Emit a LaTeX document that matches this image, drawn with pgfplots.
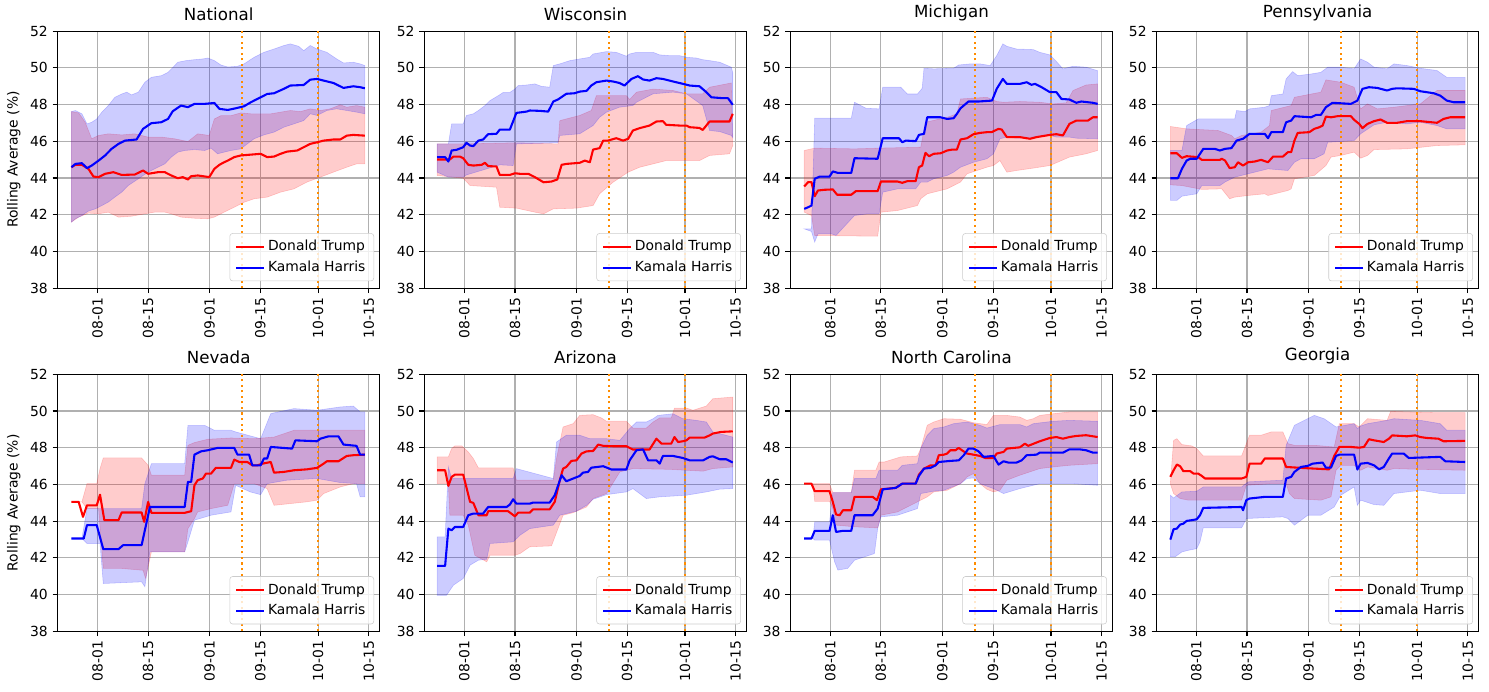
\documentclass[border=0pt]{standalone}
\usepackage{fontspec}
\setmainfont{DejaVu Sans}
\usepackage{pgfplots}
\pgfplotsset{compat=1.18}
\usepgfplotslibrary{fillbetween}

\definecolor{mplred}{HTML}{FF0000}
\definecolor{mplblue}{HTML}{0000FF}
\definecolor{darkorange}{HTML}{FF8C00}
\definecolor{gridgray}{HTML}{B0B0B0}

% days counted from 08-01
\pgfplotsset{
  panel/.style={
    scale only axis, width=232.1pt, height=185pt, anchor=south west,
    xmin=-11.05, xmax=78.05, ymin=38, ymax=52,
    xtick={0,14,31,45,61,75},
    xticklabels={\textnormal{08-01},\textnormal{08-15},\textnormal{09-01},\textnormal{09-15},\textnormal{10-01},\textnormal{10-15}},
    x tick label style={rotate=90, anchor=east},
    ytick={38,40,...,52},
    /pgf/number format/assume math mode=true,
    tick label style={font=\fontsize{10}{12}\selectfont},
    title style={font=\fontsize{12}{14}\selectfont, yshift=-2pt},
    ylabel style={font=\fontsize{10}{12}\selectfont},
    grid=major, grid style={gridgray, line width=0.8pt},
    tick align=outside, tick pos=left, major tick length=3.5pt,
    tick style={black, line width=0.8pt},
    axis line style={line width=0.8pt},
    legend entries={Donald Trump, Kamala Harris},
    legend cell align=left,
    legend image code/.code={\draw[##1] (0pt,0pt) -- (20pt,0pt);},
    legend style={at={(0.982,0.027)}, anchor=south east, draw=black!20,
      rounded corners=2pt, fill=white, fill opacity=0.8, text opacity=1,
      font=\fontsize{10}{12}\selectfont, row sep=2pt, inner xsep=4pt, inner ysep=3pt},
  },
  edge/.style={draw=none, forget plot},
  tband/.style={fill=mplred, draw=mplred, fill opacity=0.2, draw opacity=0.2, forget plot},
  hband/.style={fill=mplblue, draw=mplblue, fill opacity=0.2, draw opacity=0.2, forget plot},
  vmark/.style={darkorange, line width=1.5pt, dash pattern=on 1.5pt off 2.5pt, forget plot},
  trump/.style={mplred, line width=1.5pt, line join=round},
  harris/.style={mplblue, line width=1.5pt, line join=round},
}

\begin{document}
\begin{tikzpicture}
\path (0,0) rectangle (1072.08pt,496.8pt);

% ---------------- National
\begin{axis}[panel, at={(41.4pt,290.2pt)}, title={National}, ylabel={Rolling Average (\%)}]
\addplot[edge, name path=tu1] coordinates {(-7.2,47.62) (-5.2,47.55) (-3.4,47.04) (-1.6,46.14) (0.3,46.32) (3.0,46.41) (6.7,46.35) (10.3,46.41) (14.0,46.23) (17.7,46.23) (21.3,46.14) (25.0,45.99) (27.7,46.41) (30.9,46.32) (32.3,47.22) (34.1,47.40) (36.9,47.40) (39.6,47.55) (42.4,47.50) (47.9,47.50) (50.6,47.59) (53.3,47.68) (56.1,47.62) (58.8,47.77) (61.6,47.68) (64.3,47.77) (67.1,47.99) (68.9,47.86) (71.6,47.95) (73.9,47.86)};
\addplot[edge, name path=tl1] coordinates {(-7.2,41.60) (-5.2,41.87) (-2.5,42.09) (0.3,42.05) (3.0,42.14) (5.8,41.87) (9.4,41.92) (13.1,42.05) (15.8,42.14) (18.6,42.14) (20.4,42.05) (23.1,41.87) (26.8,41.81) (30.5,41.78) (32.3,41.87) (35.0,42.14) (37.8,42.41) (40.5,42.68) (43.3,42.87) (46.9,42.96) (50.6,43.23) (54.3,43.41) (57.9,43.78) (61.6,44.05) (65.2,44.32) (68.9,44.59) (71.6,44.77) (73.9,44.77)};
\addplot[tband] fill between[of=tu1 and tl1];
\addplot[edge, name path=hu1] coordinates {(-7.2,47.62) (-6.1,47.68) (-4.3,47.50) (-2.9,46.95) (-1.6,47.04) (-0.2,47.22) (1.2,47.59) (3.0,47.95) (4.8,48.40) (6.7,48.58) (8.1,48.68) (9.4,48.53) (11.3,48.68) (13.1,49.22) (14.9,49.49) (17.7,49.58) (19.5,49.76) (20.9,50.04) (22.2,50.31) (24.5,50.40) (26.8,50.45) (29.1,50.49) (30.5,50.54) (32.3,50.40) (34.1,50.16) (36.0,50.05) (38.7,50.09) (40.5,50.22) (43.3,50.58) (46.0,50.85) (48.8,51.03) (51.5,51.22) (53.3,51.31) (55.6,51.18) (57.0,50.94) (58.8,51.22) (60.7,51.03) (63.4,50.85) (66.1,50.49) (68.0,50.27) (70.7,50.31) (72.6,50.22) (73.9,50.13)};
\addplot[edge, name path=hl1] coordinates {(-7.2,41.60) (-6.1,41.78) (-4.3,41.96) (-2.5,42.20) (-0.6,42.32) (1.2,42.50) (3.0,42.69) (4.8,42.96) (6.7,43.23) (8.5,43.59) (11.3,43.96) (14.0,44.32) (15.8,44.50) (18.6,44.77) (20.4,45.14) (22.2,45.41) (24.1,45.50) (26.8,45.55) (29.6,45.50) (31.4,45.63) (33.2,45.32) (35.0,45.41) (36.9,45.50) (39.6,45.59) (41.4,45.86) (43.3,46.14) (46.0,46.35) (48.8,46.50) (51.5,46.77) (54.3,46.95) (57.0,47.13) (58.8,47.50) (60.7,47.41) (63.4,47.68) (66.1,47.77) (68.9,47.68) (71.6,47.59) (73.9,47.50)};
\addplot[hband] fill between[of=hu1 and hl1];
\addplot[vmark] coordinates {(40,38) (40,52)};
\addplot[vmark] coordinates {(61,38) (61,52)};
\addplot[trump] coordinates {(-7.2,44.59) (-6.1,44.72) (-4.3,44.72) (-2.5,44.50) (-1.1,44.08) (0.3,44.05) (2.1,44.23) (4.4,44.32) (6.7,44.17) (10.3,44.19) (12.6,44.41) (14.0,44.23) (16.7,44.32) (18.6,44.32) (20.4,44.14) (22.2,43.99) (23.6,44.05) (25.0,43.92) (25.9,44.10) (27.7,44.14) (30.9,44.05) (32.3,44.50) (33.7,44.72) (35.0,44.86) (36.0,44.95) (37.8,45.14) (39.6,45.23) (41.4,45.26) (45.1,45.32) (46.9,45.14) (48.8,45.17) (50.6,45.32) (52.4,45.44) (55.2,45.50) (57.0,45.68) (58.8,45.86) (60.7,45.95) (62.5,46.04) (65.2,46.10) (67.1,46.10) (68.9,46.31) (70.7,46.35) (73.9,46.31)};
\addplot[harris] coordinates {(-7.2,44.59) (-6.1,44.77) (-4.3,44.81) (-2.9,44.54) (-1.6,44.68) (0.3,44.95) (2.1,45.23) (3.9,45.59) (5.8,45.86) (7.6,46.04) (10.8,46.10) (12.6,46.68) (14.9,46.99) (17.6,47.04) (19.5,47.22) (20.8,47.64) (23.1,47.95) (25.0,47.86) (26.8,48.04) (29.5,48.04) (32.3,48.09) (33.7,47.77) (36.0,47.71) (38.2,47.80) (40.5,47.91) (42.4,48.13) (45.1,48.40) (46.9,48.58) (48.8,48.62) (51.5,48.86) (53.3,49.04) (57.0,49.07) (58.8,49.36) (60.7,49.40) (62.5,49.31) (65.2,49.18) (68.0,48.91) (70.7,49.00) (72.6,48.95) (73.9,48.89)};
\end{axis}

% ---------------- Wisconsin
\begin{axis}[panel, at={(305.5pt,290.2pt)}, title={Wisconsin}]
\addplot[edge, name path=tu2] coordinates {(-7.5,45.86) (-0.3,45.86) (14.4,45.92) (25.9,45.86) (26.4,47.13) (31.9,47.41) (35.1,47.68) (36.5,48.49) (44.8,48.49) (45.7,48.28) (47.6,48.68) (52.2,48.85) (57.7,48.77) (61.4,48.59) (65.9,48.59) (67.8,48.95) (73.8,49.18)};
\addplot[edge, name path=tl2] coordinates {(-7.5,44.14) (-0.3,43.99) (1.6,43.59) (8.9,43.50) (9.8,42.41) (14.4,42.36) (19.5,42.14) (21.9,42.05) (24.6,42.32) (31.0,42.36) (35.6,42.50) (37.4,43.14) (41.1,43.77) (45.3,44.32) (48.5,44.59) (55.8,44.95) (65.0,44.95) (67.8,45.23) (73.3,45.32) (74.2,45.77)};
\addplot[tband] fill between[of=tu2 and tl2];
\addplot[edge, name path=hu2] coordinates {(-7.5,45.86) (-4.4,45.86) (-3.5,46.95) (-0.3,46.95) (0.6,47.41) (2.5,47.50) (3.9,47.68) (5.7,47.95) (7.1,48.22) (9.4,48.49) (10.8,48.67) (12.6,48.67) (14.0,48.85) (14.9,49.04) (17.2,49.07) (19.5,49.13) (21.3,49.00) (23.6,48.95) (24.6,50.13) (26.4,50.22) (29.2,50.40) (31.9,50.49) (34.7,50.58) (35.6,50.76) (39.3,50.89) (42.0,50.85) (44.8,50.64) (45.7,50.76) (47.6,50.85) (52.2,50.85) (54.0,50.71) (56.8,50.67) (59.5,50.67) (61.4,50.58) (64.1,50.54) (65.9,50.45) (67.8,50.40) (70.6,50.31) (73.8,50.04) (74.2,49.75)};
\addplot[edge, name path=hl2] coordinates {(-7.5,44.32) (-4.4,44.05) (-0.3,44.05) (0.6,44.17) (6.2,44.50) (9.8,44.72) (13.5,44.68) (14.4,45.86) (25.9,45.92) (26.4,46.32) (31.9,46.41) (35.6,46.86) (37.4,47.31) (39.3,47.59) (42.9,47.86) (46.6,47.95) (47.6,48.13) (52.2,48.59) (57.7,48.68) (61.4,48.59) (65.9,47.95) (67.8,46.59) (70.6,46.53) (73.8,46.32) (74.2,46.20)};
\addplot[hband] fill between[of=hu2 and hl2];
\addplot[vmark] coordinates {(40,38) (40,52)};
\addplot[vmark] coordinates {(61,38) (61,52)};
\addplot[trump] coordinates {(-7.5,45.01) (-4.0,45.01) (-3.0,45.17) (-1.2,45.17) (-0.3,45.08) (1.1,44.72) (2.5,44.68) (4.8,44.72) (5.7,44.83) (6.6,44.65) (8.9,44.63) (9.8,44.17) (12.6,44.17) (14.0,44.26) (15.4,44.23) (17.7,44.23) (19.5,44.05) (21.9,43.77) (24.1,43.81) (25.7,43.92) (26.9,44.72) (28.2,44.77) (31.9,44.83) (33.3,44.95) (34.7,44.86) (35.6,45.55) (37.4,45.63) (38.4,46.04) (39.7,46.04) (42.0,46.17) (43.9,46.04) (45.3,46.14) (46.6,46.59) (48.5,46.72) (51.2,46.86) (53.1,47.08) (54.9,47.10) (55.8,46.90) (59.5,46.86) (61.4,46.86) (62.3,46.77) (65.0,46.73) (65.9,46.62) (67.8,47.08) (70.6,47.08) (73.3,47.08) (74.2,47.50)};
\addplot[harris] coordinates {(-7.5,45.14) (-5.3,45.14) (-4.4,44.90) (-3.5,45.50) (-2.1,45.54) (-0.3,45.68) (0.6,45.92) (1.6,45.77) (2.5,45.74) (3.9,46.04) (5.2,46.10) (6.6,46.39) (8.9,46.41) (9.8,46.64) (12.6,46.64) (14.4,47.55) (17.2,47.62) (18.1,47.68) (20.9,47.66) (23.2,47.62) (24.6,48.17) (25.9,48.28) (28.2,48.59) (30.5,48.62) (31.9,48.71) (33.8,48.75) (35.1,49.04) (36.5,49.22) (39.3,49.31) (41.1,49.26) (42.9,49.18) (44.3,49.04) (46.2,49.40) (48.0,49.55) (49.4,49.37) (51.2,49.31) (53.1,49.44) (54.9,49.40) (57.7,49.26) (60.5,49.13) (62.3,49.04) (65.0,49.00) (66.9,48.68) (68.3,48.40) (71.5,48.35) (72.9,48.35) (74.2,47.99)};
\end{axis}

% ---------------- Michigan
\begin{axis}[panel, at={(569.0pt,290.2pt)}, title={Michigan}]
\addplot[edge, name path=tu3] coordinates {(-7.2,45.50) (-4.3,45.63) (6.7,45.59) (13.5,45.63) (25.0,45.68) (26.3,47.04) (32.3,47.31) (35.0,47.50) (36.0,48.31) (43.3,48.40) (46.0,48.17) (47.9,48.13) (52.4,48.17) (57.9,48.13) (61.6,48.04) (65.2,48.10) (67.1,48.77) (70.7,49.07) (73.9,49.13)};
\addplot[edge, name path=tl3] coordinates {(-7.2,42.14) (-5.2,41.96) (-4.3,40.87) (13.1,40.83) (14.0,42.14) (18.6,42.23) (24.1,42.50) (25.0,42.87) (26.8,43.14) (32.3,43.41) (36.0,43.78) (37.8,44.23) (43.3,44.59) (45.1,44.68) (46.9,44.95) (48.8,44.32) (51.5,44.41) (56.1,44.54) (60.7,44.68) (66.1,45.14) (70.7,45.32) (73.9,45.50)};
\addplot[tband] fill between[of=tu3 and tl3];
\addplot[edge, name path=hu3] coordinates {(-7.2,41.23) (-5.2,41.23) (-4.3,47.26) (5.8,47.26) (6.7,48.13) (9.9,47.80) (13.5,47.77) (14.5,48.95) (19.5,48.95) (21.3,48.58) (24.1,48.58) (25.4,48.89) (25.9,49.98) (28.6,49.95) (34.1,49.98) (35.5,50.16) (38.7,50.22) (41.4,50.22) (44.2,50.13) (46.0,50.67) (47.7,51.31) (48.8,51.18) (51.5,51.03) (56.1,51.00) (57.9,50.85) (60.7,50.71) (62.5,50.35) (64.3,49.95) (67.1,50.09) (70.7,50.04) (73.9,49.85)};
\addplot[edge, name path=hl3] coordinates {(-7.2,41.23) (-5.2,41.09) (-4.3,40.51) (-3.4,40.96) (0.3,40.96) (1.6,40.87) (6.7,41.96) (10.3,42.05) (13.5,42.05) (14.5,43.23) (18.6,43.41) (23.6,43.41) (25.0,43.78) (26.8,43.78) (28.6,43.96) (32.3,44.14) (34.1,44.32) (36.0,44.59) (39.6,44.86) (43.3,45.05) (45.1,45.32) (46.9,46.14) (48.8,46.23) (51.5,46.17) (56.1,46.23) (60.7,46.32) (62.5,46.23) (66.1,46.23) (68.0,46.17) (73.9,46.14)};
\addplot[hband] fill between[of=hu3 and hl3];
\addplot[vmark] coordinates {(40,38) (40,52)};
\addplot[vmark] coordinates {(61,38) (61,52)};
\addplot[trump] coordinates {(-7.2,43.54) (-6.1,43.78) (-5.2,43.78) (-4.3,43.01) (-3.4,43.32) (-1.6,43.36) (0.7,43.38) (1.9,43.09) (5.8,43.09) (7.1,43.29) (13.1,43.29) (14.0,43.81) (18.6,43.81) (19.9,43.74) (21.3,43.83) (23.6,43.83) (24.5,44.59) (25.4,44.68) (26.3,45.37) (27.3,45.19) (28.6,45.32) (30.5,45.35) (32.3,45.50) (33.7,45.55) (35.0,45.55) (36.0,46.10) (37.8,46.17) (39.6,46.39) (41.4,46.46) (43.3,46.50) (44.6,46.50) (46.5,46.68) (47.4,46.64) (48.8,46.23) (52.4,46.23) (55.2,46.14) (57.0,46.23) (60.7,46.35) (62.5,46.39) (64.3,46.32) (66.1,46.95) (68.0,47.13) (71.2,47.13) (72.6,47.31) (73.9,47.31)};
\addplot[harris] coordinates {(-7.2,42.32) (-6.1,42.41) (-5.2,42.50) (-4.3,43.96) (-2.9,44.08) (-0.2,44.08) (0.7,44.36) (2.1,44.28) (5.8,44.28) (6.7,45.08) (13.1,45.05) (14.5,46.17) (19.0,46.17) (19.9,45.95) (20.9,46.04) (23.6,46.01) (24.5,46.35) (25.9,46.41) (26.8,47.31) (30.5,47.31) (32.3,47.22) (34.1,47.26) (35.0,47.50) (36.0,47.80) (38.2,48.17) (41.0,48.17) (44.7,48.22) (46.0,48.86) (47.7,49.40) (48.8,49.13) (52.4,49.13) (54.3,49.22) (55.6,49.08) (56.6,49.13) (58.4,48.95) (60.7,48.68) (62.5,48.68) (63.9,48.31) (66.1,48.28) (68.0,48.10) (69.4,48.17) (71.2,48.13) (72.6,48.10) (73.9,48.04)};
\end{axis}

% ---------------- Pennsylvania
\begin{axis}[panel, at={(832.6pt,290.2pt)}, title={Pennsylvania}]
\addplot[edge, name path=tu4] coordinates {(-7.2,46.81) (-2.7,46.68) (6.0,46.59) (9.7,46.32) (10.6,46.14) (12.5,46.32) (17.9,46.50) (20.2,46.86) (20.7,47.68) (26.2,47.95) (27.1,48.40) (34.4,48.68) (35.8,49.35) (39.9,49.22) (43.6,48.95) (45.4,47.77) (47.3,48.04) (50.0,47.77) (54.6,47.86) (61.9,48.04) (66.5,48.77) (74.3,48.77)};
\addplot[edge, name path=tl4] coordinates {(-7.2,43.63) (-4.0,43.59) (1.5,43.38) (7.0,43.41) (9.2,42.87) (10.6,42.96) (14.3,43.05) (18.9,43.14) (19.8,43.05) (25.3,43.32) (26.2,43.41) (27.1,43.96) (32.6,44.14) (35.8,44.68) (37.2,45.14) (39.9,45.23) (43.6,45.41) (45.4,45.08) (47.3,45.23) (49.1,45.55) (58.2,45.59) (66.5,45.77) (74.3,45.81)};
\addplot[tband] fill between[of=tu4 and tl4];
\addplot[edge, name path=hu4] coordinates {(-7.2,45.50) (-4.0,45.50) (-2.7,46.86) (0.5,47.22) (10.6,47.22) (11.1,47.68) (13.4,47.62) (14.7,47.77) (18.9,47.86) (20.2,47.95) (20.7,48.49) (23.9,48.58) (24.8,49.40) (26.6,49.80) (28.0,49.58) (31.7,49.67) (34.4,49.76) (36.3,50.04) (39.9,50.04) (43.6,49.95) (45.4,50.49) (47.3,50.31) (49.1,50.04) (52.7,49.95) (54.6,50.22) (58.2,50.13) (61.9,49.98) (66.5,49.86) (69.2,49.49) (74.3,49.49)};
\addplot[edge, name path=hl4] coordinates {(-7.2,42.78) (-5.4,42.78) (-4.0,43.01) (0.1,43.14) (1.5,43.59) (6.5,43.59) (7.9,43.78) (10.6,44.05) (19.8,44.50) (25.3,44.41) (27.1,44.86) (28.9,45.05) (32.6,45.05) (35.3,45.32) (36.3,45.95) (43.6,46.04) (45.4,46.41) (49.1,46.90) (52.7,47.04) (58.2,46.95) (61.9,47.04) (66.5,46.86) (69.2,46.68) (74.3,46.68)};
\addplot[hband] fill between[of=hu4 and hl4];
\addplot[vmark] coordinates {(40,38) (40,52)};
\addplot[vmark] coordinates {(61,38) (61,52)};
\addplot[trump] coordinates {(-7.2,45.35) (-5.4,45.35) (-4.0,45.10) (-2.7,45.19) (0.5,45.14) (1.5,44.99) (6.5,44.99) (7.0,45.05) (7.9,44.96) (9.2,44.54) (10.6,44.59) (11.5,44.86) (12.9,44.68) (14.3,44.86) (16.1,44.90) (17.9,44.99) (19.8,44.86) (20.2,44.95) (21.2,45.17) (23.9,45.17) (25.3,45.41) (26.2,45.41) (27.1,46.04) (28.0,46.46) (31.2,46.50) (32.6,46.68) (34.0,46.77) (34.9,46.86) (35.8,47.35) (37.2,47.31) (39.0,47.37) (42.7,47.37) (43.6,47.17) (45.0,46.95) (45.9,46.72) (47.3,46.95) (49.1,47.10) (50.9,47.19) (52.7,47.01) (55.5,47.01) (58.2,47.10) (61.9,47.10) (66.5,47.01) (68.3,47.22) (70.1,47.31) (74.3,47.31)};
\addplot[harris] coordinates {(-7.2,43.99) (-5.1,43.99) (-4.0,44.50) (-2.7,44.95) (-1.7,45.05) (0.1,45.05) (1.9,45.59) (5.1,45.59) (6.5,45.50) (7.9,45.59) (9.7,45.63) (11.1,46.04) (12.9,46.14) (14.7,46.41) (18.9,46.41) (19.8,46.17) (20.7,46.50) (23.9,46.50) (24.8,47.04) (26.2,47.13) (27.1,47.37) (31.7,47.31) (33.1,47.44) (34.4,47.44) (35.8,47.86) (37.6,48.10) (42.7,48.04) (44.5,48.22) (45.9,48.86) (47.7,48.95) (50.0,48.91) (52.7,48.77) (54.1,48.86) (55.5,48.89) (60.1,48.86) (61.9,48.73) (65.6,48.62) (67.4,48.49) (69.2,48.22) (71.1,48.13) (74.3,48.13)};
\end{axis}

% ---------------- Nevada
\begin{axis}[panel, at={(41.4pt,43.2pt)}, title={Nevada}, ylabel={Rolling Average (\%)}]
\addplot[edge, name path=tu5] coordinates {(-7.2,45.05) (-4.3,45.05) (-2.9,46.04) (-0.2,46.04) (0.7,46.86) (1.6,47.44) (12.2,47.44) (14.0,47.04) (14.9,46.50) (24.1,46.50) (25.0,48.13) (26.8,48.28) (30.5,48.46) (36.9,48.53) (43.3,48.49) (48.8,48.58) (52.4,48.82) (54.3,48.95) (73.9,48.95)};
\addplot[edge, name path=tl5] coordinates {(-7.2,45.05) (-4.3,45.05) (-2.9,44.68) (0.3,44.68) (1.6,41.42) (6.7,41.42) (12.6,41.32) (13.3,40.87) (14.9,42.32) (24.1,42.32) (25.0,43.59) (26.8,44.14) (27.7,44.50) (31.4,44.68) (36.0,44.86) (37.8,46.04) (43.3,46.04) (46.9,45.77) (48.8,44.86) (57.9,45.05) (60.7,45.14) (62.5,45.50) (67.1,45.86) (70.7,46.04) (73.9,46.04)};
\addplot[tband] fill between[of=tu5 and tl5];
\addplot[edge, name path=hu5] coordinates {(-7.2,43.05) (-4.3,43.05) (-2.9,44.68) (12.2,44.68) (13.1,46.04) (14.9,47.13) (24.1,47.13) (25.0,49.22) (29.6,49.22) (32.3,48.95) (36.9,48.95) (38.2,48.86) (45.1,48.49) (47.9,49.86) (54.3,50.13) (60.7,50.04) (67.1,50.22) (70.7,50.27) (72.6,49.95) (73.9,49.95)};
\addplot[edge, name path=hl5] coordinates {(-7.2,43.05) (-4.3,43.05) (-2.9,42.78) (0.7,42.78) (1.6,40.60) (12.2,40.69) (13.1,40.42) (14.5,42.32) (24.1,42.32) (25.0,42.87) (26.8,44.05) (31.4,44.32) (36.9,44.50) (38.2,45.95) (42.2,45.59) (45.1,45.44) (46.9,46.04) (52.4,46.23) (60.7,46.32) (67.1,46.10) (71.6,46.04) (72.6,45.32) (73.9,45.32)};
\addplot[hband] fill between[of=hu5 and hl5];
\addplot[vmark] coordinates {(40,38) (40,52)};
\addplot[vmark] coordinates {(61,38) (61,52)};
\addplot[trump] coordinates {(-7.2,45.05) (-5.2,45.05) (-4.0,44.23) (-2.9,44.86) (-0.2,44.86) (0.7,45.44) (1.9,44.05) (5.8,44.05) (6.7,44.47) (12.2,44.47) (12.9,43.96) (14.0,45.05) (14.9,44.45) (24.1,44.45) (25.9,44.54) (26.8,45.95) (27.7,46.23) (29.1,46.32) (30.0,46.59) (31.4,46.59) (32.7,46.90) (36.9,46.90) (37.8,47.35) (39.2,47.22) (41.4,47.22) (42.8,47.04) (44.2,47.04) (45.6,47.13) (47.9,47.22) (48.8,46.64) (51.5,46.68) (54.3,46.77) (57.9,46.82) (60.7,46.90) (62.5,47.13) (63.4,47.26) (66.6,47.26) (68.9,47.55) (70.7,47.59) (73.9,47.62)};
\addplot[harris] coordinates {(-7.2,43.05) (-3.8,43.05) (-2.9,43.78) (-0.2,43.78) (1.6,42.47) (5.8,42.47) (7.1,42.69) (12.2,42.69) (14.5,44.77) (24.1,44.77) (25.0,46.14) (25.9,46.14) (26.8,47.62) (28.6,47.80) (30.5,47.86) (33.2,47.99) (37.8,47.99) (38.7,47.62) (41.9,47.62) (42.8,47.04) (45.1,47.04) (46.0,47.41) (46.9,47.41) (47.9,48.04) (53.8,47.95) (54.7,48.40) (60.7,48.35) (61.6,48.49) (63.9,48.62) (66.6,48.62) (68.0,48.17) (71.6,48.10) (72.6,47.62) (73.9,47.62)};
\end{axis}

% ---------------- Arizona
\begin{axis}[panel, at={(305.5pt,43.2pt)}, title={Arizona}]
\addplot[edge, name path=tu6] coordinates {(-7.5,47.50) (-4.4,47.50) (-3.5,47.95) (-2.6,48.10) (-0.7,48.10) (1.1,47.77) (2.5,47.41) (3.9,46.90) (13.5,46.90) (14.4,46.23) (24.6,46.23) (25.5,47.41) (27.3,49.13) (30.1,49.31) (31.9,49.76) (35.6,49.80) (37.9,49.62) (39.3,49.44) (44.8,49.44) (46.6,49.07) (50.3,49.07) (52.2,49.40) (54.0,49.62) (57.2,49.62) (58.1,50.16) (61.4,50.16) (63.2,50.04) (66.9,50.27) (68.7,50.67) (74.2,50.76)};
\addplot[edge, name path=tl6] coordinates {(-7.5,46.04) (-4.4,46.04) (-4.0,44.32) (-0.3,44.32) (1.1,43.78) (2.9,42.14) (6.2,41.78) (7.1,42.14) (14.0,42.14) (15.4,42.23) (18.1,42.60) (24.1,42.65) (25.9,43.59) (27.3,44.32) (30.1,44.46) (33.8,44.77) (35.6,45.23) (39.3,45.50) (43.0,46.68) (46.6,46.86) (56.8,46.82) (66.0,46.72) (68.7,46.86) (74.2,46.95)};
\addplot[tband] fill between[of=tu6 and tl6];
\addplot[edge, name path=hu6] coordinates {(-7.5,43.14) (-5.3,43.14) (-4.4,46.95) (-3.5,46.32) (13.5,46.32) (14.4,46.86) (24.6,46.32) (25.5,48.31) (28.2,48.68) (31.9,48.68) (34.7,48.49) (39.3,48.49) (43.0,48.40) (45.7,49.04) (47.6,49.40) (50.3,49.40) (52.2,49.58) (53.5,49.76) (57.7,49.85) (60.4,49.58) (64.1,49.49) (66.9,49.40) (68.7,48.86) (74.2,48.58)};
\addplot[edge, name path=hl6] coordinates {(-7.5,39.96) (-4.9,39.96) (-3.0,40.51) (-0.3,40.87) (1.6,41.60) (3.9,41.87) (6.2,41.92) (7.1,42.78) (13.5,42.87) (15.4,43.23) (18.1,43.59) (24.6,43.78) (26.4,44.32) (31.0,44.54) (33.8,44.86) (35.6,45.19) (39.3,45.44) (44.8,45.59) (46.6,45.77) (50.3,45.23) (54.0,45.32) (61.4,45.41) (66.9,45.59) (70.6,45.74) (74.2,45.77)};
\addplot[hband] fill between[of=hu6 and hl6];
\addplot[vmark] coordinates {(40,38) (40,52)};
\addplot[vmark] coordinates {(61,38) (61,52)};
\addplot[trump] coordinates {(-7.5,46.77) (-5.3,46.77) (-4.4,45.92) (-3.5,46.41) (-2.6,46.53) (-0.3,46.53) (1.6,45.05) (2.5,44.99) (3.9,44.32) (6.2,44.32) (6.6,44.54) (12.1,44.54) (14.0,44.26) (14.9,44.46) (18.1,44.46) (19.0,44.64) (23.6,44.64) (25.0,45.05) (26.4,46.23) (27.3,46.86) (28.2,46.95) (29.6,47.28) (31.0,47.31) (32.4,47.68) (33.8,47.80) (35.6,47.82) (37.0,48.17) (38.4,48.10) (41.1,48.08) (44.8,48.08) (46.6,47.90) (51.2,47.90) (53.1,48.49) (54.5,48.22) (57.2,48.22) (58.1,48.58) (59.1,48.31) (60.4,48.35) (61.4,48.40) (62.3,48.55) (66.4,48.55) (67.8,48.67) (68.7,48.77) (71.0,48.86) (74.2,48.89)};
\addplot[harris] coordinates {(-7.5,41.56) (-5.3,41.56) (-4.4,43.59) (-3.5,43.50) (-2.6,43.68) (-0.3,43.68) (1.1,44.32) (2.5,44.41) (5.2,44.41) (6.6,44.77) (11.7,44.77) (12.6,44.90) (13.5,45.19) (14.4,44.95) (18.1,44.95) (19.0,45.01) (23.6,45.01) (25.0,45.41) (26.9,46.50) (28.2,46.17) (30.1,46.32) (31.9,46.46) (32.8,46.64) (34.2,46.68) (35.1,46.91) (38.4,46.99) (40.7,46.81) (44.8,46.81) (45.7,47.31) (47.6,47.86) (49.4,47.91) (50.8,47.31) (53.1,47.31) (54.0,47.13) (54.9,47.55) (57.7,47.55) (60.4,47.44) (62.3,47.31) (66.0,47.31) (67.8,47.50) (68.7,47.53) (70.6,47.37) (72.4,47.37) (74.2,47.19)};
\end{axis}

% ---------------- North Carolina
\begin{axis}[panel, at={(569.0pt,43.2pt)}, title={North Carolina}]
\addplot[edge, name path=tu7] coordinates {(-7.2,46.04) (-0.2,46.04) (0.7,45.55) (5.8,45.55) (6.7,46.77) (12.6,46.77) (13.5,47.22) (14.9,47.22) (19.5,47.50) (24.1,47.55) (25.0,47.95) (26.8,49.22) (28.6,49.40) (31.4,49.58) (36.0,49.55) (39.6,49.36) (43.3,49.26) (45.1,49.76) (48.8,49.76) (52.4,49.67) (54.3,49.49) (56.1,49.58) (57.9,49.76) (61.6,49.85) (66.1,49.95) (73.9,49.95)};
\addplot[edge, name path=tl7] coordinates {(-7.2,46.04) (-4.8,46.04) (-4.3,45.08) (-0.2,45.08) (0.7,44.68) (1.6,43.78) (6.7,43.69) (13.1,43.63) (14.0,44.32) (18.6,44.50) (24.1,45.05) (26.8,45.32) (28.6,45.59) (32.3,45.68) (36.0,46.04) (37.8,46.41) (39.6,46.59) (41.4,46.04) (43.3,45.73) (45.1,45.59) (46.9,45.68) (48.8,46.23) (52.4,46.50) (57.9,46.86) (61.6,46.95) (66.1,47.04) (73.9,47.13)};
\addplot[tband] fill between[of=tu7 and tl7];
\addplot[edge, name path=hu7] coordinates {(-7.2,43.05) (-4.8,43.05) (-4.3,43.96) (-0.2,43.96) (0.7,45.55) (5.8,45.55) (6.7,46.32) (12.6,46.32) (13.5,46.77) (18.6,46.77) (19.9,47.04) (24.1,47.13) (25.0,47.95) (26.8,48.68) (28.6,49.04) (31.4,49.13) (34.1,49.31) (37.8,49.40) (41.4,49.22) (43.3,49.07) (46.9,49.26) (52.4,49.26) (54.3,49.13) (56.1,49.31) (61.6,49.44) (66.1,49.49) (73.9,49.44)};
\addplot[edge, name path=hl7] coordinates {(-7.2,43.05) (-4.8,43.05) (-4.3,42.96) (-0.2,42.96) (1.2,41.78) (2.1,41.33) (4.8,41.42) (6.7,41.87) (12.2,42.23) (13.1,43.59) (14.0,44.23) (18.6,44.32) (24.1,44.68) (25.0,45.50) (28.6,45.63) (31.4,45.68) (36.0,46.04) (37.8,46.32) (39.6,46.35) (41.4,46.04) (45.1,45.77) (47.9,45.50) (52.4,45.77) (57.9,46.04) (67.1,46.04) (73.9,45.95)};
\addplot[hband] fill between[of=hu7 and hl7];
\addplot[vmark] coordinates {(40,38) (40,52)};
\addplot[vmark] coordinates {(61,38) (61,52)};
\addplot[trump] coordinates {(-7.2,46.04) (-5.2,46.04) (-4.3,45.63) (-0.2,45.63) (0.7,45.05) (1.6,44.36) (2.6,44.32) (3.5,44.59) (5.8,44.59) (6.7,45.32) (11.7,45.32) (12.9,45.14) (14.0,45.73) (18.1,45.81) (19.9,46.04) (23.6,46.04) (24.5,46.53) (25.9,46.86) (27.7,47.04) (29.1,47.04) (30.0,47.59) (31.4,47.62) (32.3,47.68) (33.2,47.86) (34.6,47.86) (35.5,47.99) (36.4,47.86) (37.8,47.68) (39.6,47.62) (41.4,47.55) (42.8,47.44) (45.1,47.44) (46.0,47.68) (47.9,47.77) (48.8,47.95) (52.4,48.02) (53.8,48.22) (54.7,48.10) (57.9,48.35) (60.7,48.53) (62.5,48.58) (64.3,48.49) (66.1,48.58) (68.0,48.64) (70.7,48.68) (73.9,48.58)};
\addplot[harris] coordinates {(-7.2,43.05) (-5.2,43.05) (-4.3,43.47) (-0.2,43.47) (0.7,44.32) (1.6,43.41) (3.5,43.47) (5.8,43.47) (6.7,44.32) (11.7,44.32) (13.1,44.68) (14.5,45.73) (18.1,45.81) (19.9,46.04) (23.6,46.04) (24.5,46.46) (25.9,46.86) (27.7,46.90) (29.1,47.04) (30.0,47.22) (33.2,47.28) (35.5,47.31) (36.9,47.59) (38.2,47.95) (39.6,47.95) (41.0,47.80) (42.4,47.50) (45.1,47.55) (46.5,47.08) (47.9,47.26) (49.2,47.19) (51.5,47.19) (52.9,47.31) (54.3,47.59) (57.0,47.62) (57.9,47.73) (64.3,47.73) (66.1,47.91) (68.9,47.91) (70.7,47.86) (72.6,47.73) (73.9,47.73)};
\end{axis}

% ---------------- Georgia
\begin{axis}[panel, at={(832.6pt,43.2pt)}, title={Georgia}]
\addplot[edge, name path=tu8] coordinates {(-7.2,46.04) (-6.3,48.40) (-5.4,48.49) (-4.0,48.17) (-1.3,48.10) (0.1,47.95) (1.9,47.55) (12.5,47.55) (14.7,48.68) (17.9,48.68) (20.7,48.86) (23.9,48.86) (25.3,48.22) (27.1,48.13) (32.6,48.13) (38.1,48.04) (39.5,49.31) (43.6,49.31) (45.0,49.13) (47.3,49.58) (52.7,49.49) (53.7,49.98) (58.2,49.95) (66.5,49.91) (74.3,49.91)};
\addplot[edge, name path=tl8] coordinates {(-7.2,46.04) (-6.3,45.50) (-4.5,45.23) (-2.2,45.14) (12.5,45.14) (13.8,45.95) (20.7,46.04) (24.8,46.04) (25.7,45.50) (27.1,45.23) (34.4,45.14) (37.2,45.32) (38.6,46.77) (39.9,47.04) (43.6,47.04) (45.4,46.77) (47.3,46.95) (52.7,46.77) (54.6,46.86) (61.9,46.82) (74.3,46.77)};
\addplot[tband] fill between[of=tu8 and tl8];
\addplot[edge, name path=hu8] coordinates {(-7.2,45.41) (-6.3,45.26) (-4.0,45.59) (0.1,45.63) (1.9,45.86) (12.5,45.86) (14.3,46.14) (23.9,46.23) (24.8,48.13) (27.1,49.22) (32.6,49.76) (35.3,49.58) (38.6,49.13) (43.6,49.31) (44.5,49.04) (45.4,49.18) (47.3,49.31) (52.7,49.49) (54.6,49.58) (61.9,49.49) (67.4,49.31) (69.2,48.95) (74.3,48.95)};
\addplot[edge, name path=hl8] coordinates {(-7.2,42.05) (-5.9,42.05) (-4.0,42.32) (-2.2,42.41) (0.1,42.50) (1.0,42.87) (1.9,43.63) (12.5,43.63) (13.8,44.14) (23.9,44.23) (25.3,44.14) (27.1,43.78) (30.8,44.32) (34.4,44.32) (38.1,44.77) (39.9,45.41) (43.6,45.86) (44.5,44.86) (45.4,45.14) (49.1,44.90) (51.8,44.86) (54.6,45.50) (61.9,45.68) (67.4,45.50) (74.3,45.50)};
\addplot[hband] fill between[of=hu8 and hl8];
\addplot[vmark] coordinates {(40,38) (40,52)};
\addplot[vmark] coordinates {(61,38) (61,52)};
\addplot[trump] coordinates {(-7.2,46.41) (-6.3,46.77) (-5.4,47.08) (-4.5,46.99) (-3.6,46.72) (-1.7,46.72) (-0.8,46.59) (0.5,46.59) (1.5,46.46) (2.4,46.32) (12.5,46.32) (13.8,46.41) (14.7,47.13) (17.9,47.13) (18.9,47.41) (23.9,47.41) (24.8,46.95) (28.9,46.90) (32.6,46.86) (36.7,46.82) (38.1,47.55) (39.5,48.04) (42.7,48.04) (45.0,48.00) (46.3,48.04) (47.7,48.46) (49.1,48.40) (51.8,48.31) (53.2,48.49) (54.1,48.67) (58.2,48.62) (60.5,48.67) (61.9,48.58) (63.7,48.53) (66.9,48.49) (68.3,48.35) (74.3,48.37)};
\addplot[harris] coordinates {(-7.2,42.99) (-6.3,43.56) (-5.4,43.59) (-4.5,43.81) (-3.6,43.86) (-2.7,44.01) (-1.3,44.05) (0.1,44.10) (1.0,44.32) (1.9,44.72) (12.5,44.77) (12.9,44.59) (13.8,45.14) (14.7,45.23) (18.9,45.32) (23.9,45.32) (24.8,46.32) (26.2,46.41) (27.1,46.68) (28.9,46.95) (30.8,47.01) (32.1,47.13) (34.9,47.19) (35.8,46.91) (37.2,46.91) (38.6,47.55) (39.5,47.62) (43.6,47.62) (44.5,46.81) (45.4,47.13) (47.3,47.17) (49.1,47.04) (50.5,46.82) (51.8,46.95) (53.2,47.41) (54.1,47.68) (57.3,47.68) (58.7,47.44) (67.4,47.50) (68.8,47.26) (74.3,47.22)};
\end{axis}
\end{tikzpicture}
\end{document}
